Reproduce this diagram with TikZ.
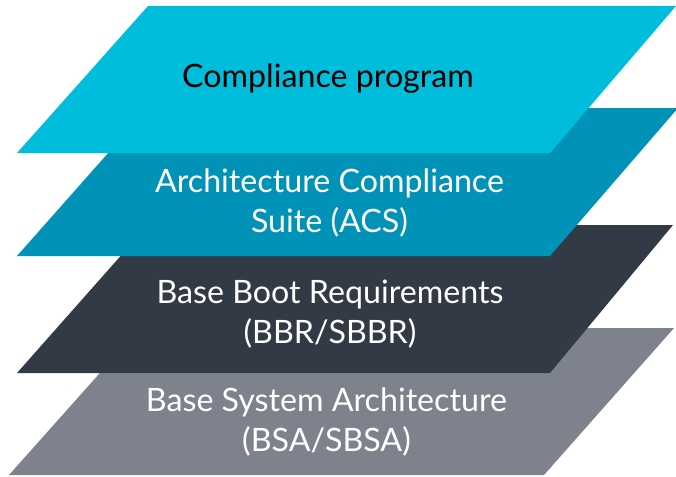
\documentclass[tikz,border=0pt]{standalone}
\usepackage{fontspec}
\setmainfont{Lato}
\definecolor{cTop}{RGB}{0,189,219}
\definecolor{cAcs}{RGB}{0,146,183}
\definecolor{cBbr}{RGB}{50,58,69}
\definecolor{cBsa}{RGB}{126,130,140}
\begin{document}
\begin{tikzpicture}[x=1pt,y=-1pt,
  layer/.style={draw=none},
  lbl/.style={anchor=base,align=center,inner sep=0pt,font=\fontsize{32.2}{39.5}\selectfont}]
\fill[white] (0,0) rectangle (676,476);
\useasboundingbox (0,0) rectangle (676,476);
\clip (0,0) rectangle (676,476);
\fill[layer,cBsa] (9,475) -- (544,475) -- (674,328) -- (140,328) -- cycle;
\fill[layer,cBbr] (17,373) -- (550,373) -- (673,225) -- (148,225) -- cycle;
\fill[layer,cAcs] (17,256) -- (550,256) -- (678,108) -- (148,108) -- cycle;
\fill[layer,cTop] (17,153) -- (550,153) -- (676,6) -- (148,6) -- cycle;
\node[lbl,text=black] (cp) at (328,88) {Compliance program};
\node[lbl,text=white] (acs) at (329.5,232) {Architecture Compliance\\Suite (ACS)};
\node[lbl,text=white] (bbr) at (330,343) {Base Boot Requirements\\(BBR/SBBR)};
\node[lbl,text=white] (bsa) at (326.5,451) {Base System Architecture\\(BSA/SBSA)};
\end{tikzpicture}
\end{document}
